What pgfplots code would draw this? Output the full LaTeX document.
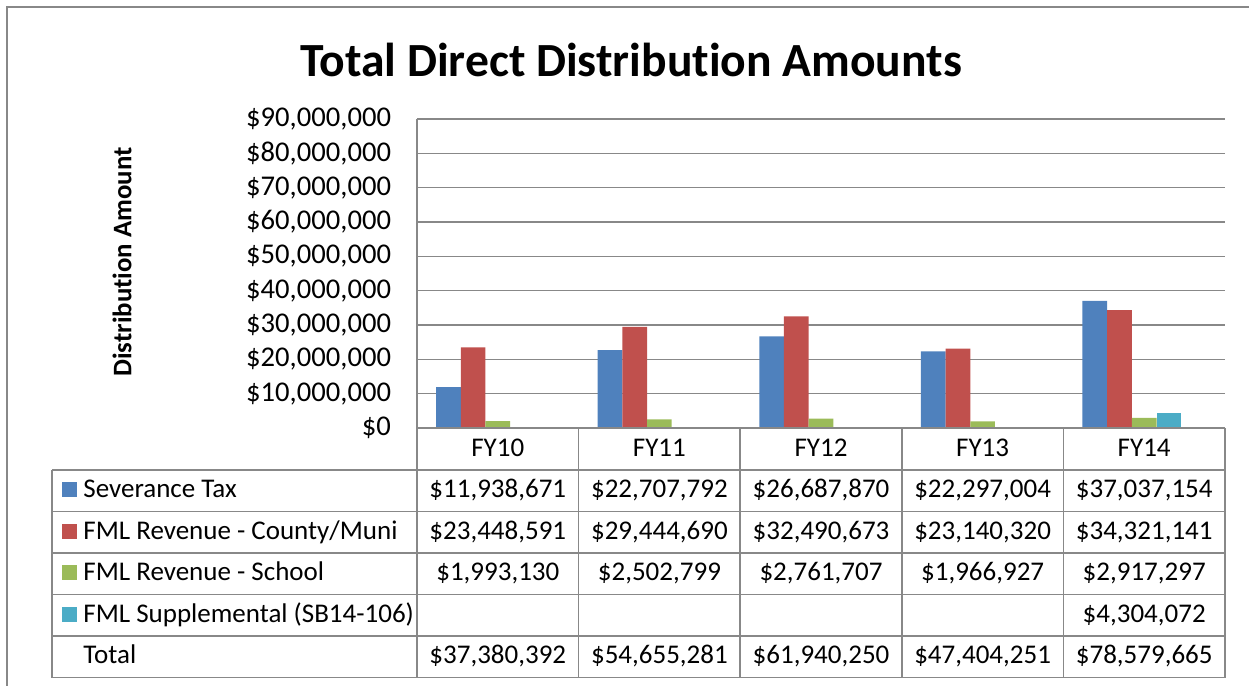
\documentclass[border=0pt]{standalone}
\usepackage{pgfplots}
\pgfplotsset{compat=1.18}
\usepackage{fontspec}
\setmainfont{Carlito}[Ligatures=NoCommon]
\definecolor{sevblue}{HTML}{4F81BD}
\definecolor{fmlred}{HTML}{C0504D}
\definecolor{fmlgreen}{HTML}{9BBB59}
\definecolor{fmlteal}{HTML}{4BACC6}
\definecolor{gridgray}{HTML}{888888}
\begin{document}
\begin{tikzpicture}[x=0.5pt,y=-0.5pt]
\useasboundingbox (0,0) rectangle (1249,686);
\draw[gridgray, line width=1pt] (7,700) -- (7,7) -- (1260,7);
\node[font=\bfseries\fontsize{23.8}{28}\selectfont] at (631,60) {Total Direct Distribution Amounts};
\node[font=\bfseries\fontsize{13.4}{16}\selectfont, rotate=90] at (122,262) {Distribution Amount};
\begin{axis}[
  at={(208.5pt,-214pt)}, anchor=south west,
  scale only axis, width=404pt, height=154.5pt,
  xmin=-0.5, xmax=4.5, ymin=0, ymax=90000000,
  xtick=\empty,
  ytick={0,10000000,20000000,30000000,40000000,50000000,60000000,70000000,80000000,90000000},
  scaled y ticks=false,
  yticklabel={\$\pgfmathprintnumber[fixed,precision=0,1000 sep={,},assume math mode=true]{\tick}},
  yticklabel style={font=\fontsize{14.3}{16}\selectfont, xshift=-9.5pt},
  major tick length=0pt,
  axis x line=none,
  axis y line*=left,
  axis line style={gridgray, line width=0.75pt, -},
  ymajorgrids,
  grid style={gridgray, line width=0.75pt},
  clip=false,
]
\addplot[ybar, fill=sevblue, draw=none, bar width=0.1528, bar shift=-0.3056]
  coordinates {(0,11938671) (1,22707792) (2,26687870) (3,22297004) (4,37037154)};
\addplot[ybar, fill=fmlred, draw=none, bar width=0.1528, bar shift=-0.1528]
  coordinates {(0,23448591) (1,29444690) (2,32490673) (3,23140320) (4,34321141)};
\addplot[ybar, fill=fmlgreen, draw=none, bar width=0.1528, bar shift=0]
  coordinates {(0,1993130) (1,2502799) (2,2761707) (3,1966927) (4,2917297)};
\addplot[ybar, fill=fmlteal, draw=none, bar width=0.1528, bar shift=0.1528]
  coordinates {(4,4304072)};
\end{axis}
% data table
\begin{scope}[gridgray, line width=0.75pt]
\draw (417,428) -- (1225,428);
\foreach \yy in {470,511.5,553,594.5,636,677.5} \draw (52,\yy) -- (1225,\yy);
\draw (52,470) -- (52,677.5);
\foreach \xx in {417,578.6,740.2,901.8,1063.4,1225} \draw (\xx,428) -- (\xx,677.5);
\end{scope}
\begin{scope}[every node/.style={font=\fontsize{13.5}{15}\selectfont, inner sep=0pt}]
\foreach \lab [count=\i from 0] in {FY10,FY11,FY12,FY13,FY14}
  \node[anchor=mid] at (497.8+161.6*\i,451.5) {\lab};
\fill[sevblue] (62,482) rectangle (77,497);
\fill[fmlred] (62,523.5) rectangle (77,538.5);
\fill[fmlgreen] (62,565) rectangle (77,580);
\fill[fmlteal] (62,606.5) rectangle (77,621.5);
\node[anchor=mid west] at (83,493) {Severance Tax};
\node[anchor=mid west] at (83,534.5) {FML Revenue - County/Muni};
\node[anchor=mid west] at (83,576) {FML Revenue - School};
\node[anchor=mid west] at (83,617.5) {FML Supplemental (SB14-106)};
\node[anchor=mid west] at (83,659) {Total};
\foreach \v [count=\i from 0] in {\$11{,}938{,}671,\$22{,}707{,}792,\$26{,}687{,}870,\$22{,}297{,}004,\$37{,}037{,}154}
  \node[anchor=mid] at (497.8+161.6*\i,493) {\v};
\foreach \v [count=\i from 0] in {\$23{,}448{,}591,\$29{,}444{,}690,\$32{,}490{,}673,\$23{,}140{,}320,\$34{,}321{,}141}
  \node[anchor=mid] at (497.8+161.6*\i,534.5) {\v};
\foreach \v [count=\i from 0] in {\$1{,}993{,}130,\$2{,}502{,}799,\$2{,}761{,}707,\$1{,}966{,}927,\$2{,}917{,}297}
  \node[anchor=mid] at (497.8+161.6*\i,576) {\v};
\node[anchor=mid] at (1144.2,617.5) {\$4,304,072};
\foreach \v [count=\i from 0] in {\$37{,}380{,}392,\$54{,}655{,}281,\$61{,}940{,}250,\$47{,}404{,}251,\$78{,}579{,}665}
  \node[anchor=mid] at (497.8+161.6*\i,659) {\v};
\end{scope}
\end{tikzpicture}
\end{document}
